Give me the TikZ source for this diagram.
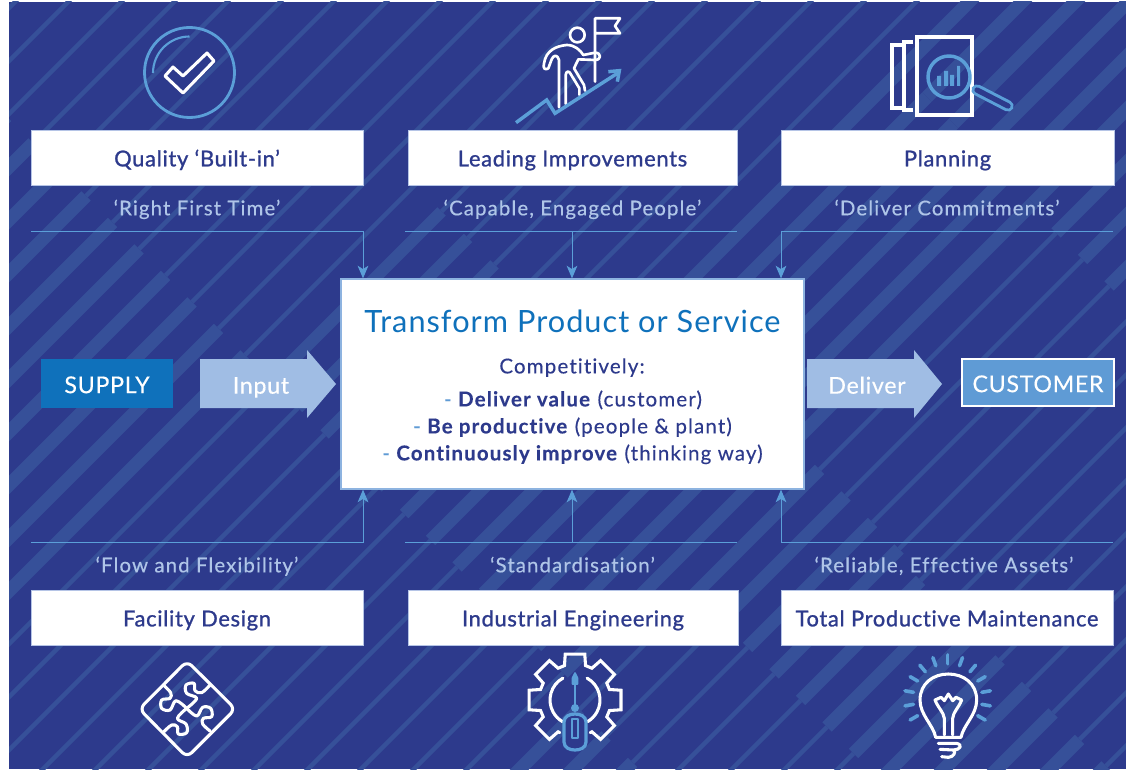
\documentclass[tikz,border=0pt]{standalone}
\usepackage{fontspec}
\setmainfont{Lato}
\newfontfamily\semi[FakeBold=1.1,LetterSpace=3.2,Ligatures=NoCommon]{Lato}
\newfontfamily\subf[FakeBold=0.4,LetterSpace=5.5,Ligatures=NoCommon]{Lato}
\newfontfamily\listf[LetterSpace=5.5,FakeBold=0.2,Ligatures=NoCommon]{Lato}
\newfontfamily\headf[LetterSpace=3.4,Ligatures=NoCommon]{Lato}
\newfontfamily\flowf[LetterSpace=3,FakeBold=0.3,Ligatures=NoCommon]{Lato}
\usetikzlibrary{arrows.meta}
\definecolor{navy}{HTML}{2D3A8C}
\definecolor{stripe}{HTML}{365099}
\definecolor{skyb}{HTML}{5B9FD8}
\definecolor{paleb}{HTML}{A0BDE4}
\definecolor{subt}{HTML}{AFC5E8}
\definecolor{deepb}{HTML}{0F71BB}
\definecolor{midb}{HTML}{5F9BD5}
\definecolor{boxedge}{HTML}{B5C4E6}
\definecolor{coreedge}{HTML}{8DB3E0}
\newcommand{\seg}[4]{\draw[stripe,line width=#4pt] ({(#1+#2)/2},{(#1-#2)/2}) -- ({(#1+#3)/2},{(#1-#3)/2});}
\tikzset{
 x=0.75pt,y=-0.75pt,
 titlebox/.style={draw=boxedge,line width=0.5pt,fill=white,text=navy,inner sep=0pt,text height=13.3pt,text depth=0pt,font=\semi\fontsize{16.4}{18}\selectfont},
 subtitle/.style={text=subt,inner sep=0pt,text height=11pt,text depth=0pt,font=\subf\fontsize{15.3}{17}\selectfont},
 conn/.style={skyb,line width=0.75pt},
 connarrow/.style={conn,-{Stealth[length=9.5pt,width=8pt,inset=2.5pt]}},
 corebox/.style={draw=coreedge,line width=0.9pt,fill=white,inner sep=0pt},
 flowtxt/.style={text=white,inner sep=0pt,text height=14.5pt,text depth=0pt,font=\flowf\fontsize{17.4}{20}\selectfont},
 iconw/.style={white,line width=2.3pt,line cap=round,line join=round},
 iconb/.style={skyb,line width=2.3pt,line cap=round,line join=round},
 corelist/.style={text=navy,inner sep=0pt,text height=11.1pt,text depth=0pt,font=\listf\fontsize{15.4}{17}\selectfont},
}
\begin{document}
\begin{tikzpicture}
\useasboundingbox (0,0) rectangle (1126,770);
\fill[white] (0,0) rectangle (1126,770);
\fill[navy] (9,2) rectangle (1126,769);
\begin{scope}
\clip (9,2) rectangle (1126,769);
\foreach \k in {-1,...,35}{
  \pgfmathtruncatemacro{\c}{70+53*\k}
  \ifnum\c<620
    \seg{\c}{-900}{-110}{10}\seg{\c}{-110}{1300}{3.4}
  \else\ifnum\c<960
    \seg{\c}{-900}{-110}{3.4}\seg{\c}{-110}{230}{9}\seg{\c}{230}{1300}{3.4}
  \else\ifnum\c<1240
    \seg{\c}{-900}{-110}{3.4}\seg{\c}{-110}{830}{10}\seg{\c}{830}{1300}{10}
  \else\ifnum\c<1500
    \seg{\c}{-900}{-130}{10}\seg{\c}{-130}{100}{3.4}\seg{\c}{100}{350}{10}\seg{\c}{350}{823}{3.4}\seg{\c}{823}{1300}{10}
  \else
    \seg{\c}{-900}{100}{3.4}\seg{\c}{100}{340}{10}\seg{\c}{340}{823}{3.4}\seg{\c}{823}{1300}{10}
  \fi\fi\fi\fi
}
\end{scope}

% title boxes
\node[titlebox,minimum width=249pt,minimum height=41.25pt] (quality) at (197,157.5) {Quality ‘Built-in’};
\node[titlebox,minimum width=247pt,minimum height=41.25pt] (leading) at (572.5,157.5) {Leading Improvements};
\node[titlebox,minimum width=250pt,minimum height=41.25pt] (planning) at (947.5,157.5) {Planning};
\node[titlebox,minimum width=249pt,minimum height=41.25pt] (facility) at (197,617.5) {Facility Design};
\node[titlebox,minimum width=247.5pt,minimum height=41.25pt] (industrial) at (573,617.5) {Industrial Engineering};
\node[titlebox,minimum width=249pt,minimum height=41.25pt] (tpm) at (947,617.5) {Total Productive Maintenance};

% subtitles
\node[subtitle] (s1) at (197,208) {‘Right First Time’};
\node[subtitle] (s2) at (572.5,208) {‘Capable, Engaged People’};
\node[subtitle] (s3) at (947,208) {‘Deliver Commitments’};
\node[subtitle] (s4) at (197,565) {‘Flow and Flexibility’};
\node[subtitle] (s5) at (572.5,565) {‘Standardisation’};
\node[subtitle] (s6) at (944,565) {‘Reliable, Effective Assets’};

% core
\node[corebox,minimum width=347.25pt,minimum height=157.5pt] (core) at (572.5,384) {};
\node[inner sep=0pt,text=deepb,text height=16.6pt,text depth=0pt,font=\headf\fontsize{23}{27}\selectfont] (coretitle) at (572.5,321) {Transform Product or Service};
\node[corelist] (comp) at (572,366) {Competitively:};
\node[corelist] (l1) at (573,399) {{\color{midb}-} \textbf{Deliver value} (customer)};
\node[corelist] (l2) at (572.5,426) {{\color{midb}-} \textbf{Be productive} (people \& plant)};
\node[corelist] (l3) at (572.5,453) {{\color{midb}-} \textbf{Continuously improve} (thinking way)};

% connectors
\coordinate (c1l) at (31,231); \coordinate (c1r) at (363,231);
\coordinate (c2l) at (405,231); \coordinate (c2r) at (737,231); \coordinate (c2m) at (572,231);
\coordinate (c3l) at (781,231); \coordinate (c3r) at (1113,231);
\coordinate (c4l) at (31,542); \coordinate (c4r) at (363,542);
\coordinate (c5l) at (405,542); \coordinate (c5r) at (737,542); \coordinate (c5m) at (572,542);
\coordinate (c6l) at (781,542); \coordinate (c6r) at (1113,542);
\draw[connarrow] (c1l) -- (c1r) -- (c1r |- core.north);
\draw[conn] (c2l) -- (c2r);
\draw[connarrow] (c2m) -- (c2m |- core.north);
\draw[connarrow] (c3r) -- (c3l) -- (c3l |- core.north);
\draw[connarrow] (c4l) -- (c4r) -- (c4r |- core.south);
\draw[conn] (c5l) -- (c5r);
\draw[connarrow] (c5m) -- (c5m |- core.south);
\draw[connarrow] (c6r) -- (c6l) -- (c6l |- core.south);

% flow
\node[flowtxt,fill=deepb,minimum width=99pt,minimum height=36.75pt] (supply) at (107,383.5) {SUPPLY};
\fill[paleb] (200,359) -- (307,359) -- (307,350) -- (336,384) -- (307,418) -- (307,408) -- (200,408) -- cycle;
\node[flowtxt] (input) at (261,384) {Input};
\fill[paleb] (807,359) -- (914,359) -- (914,350) -- (942,384) -- (914,418) -- (914,408) -- (807,408) -- cycle;
\node[flowtxt] (deliver) at (867,384) {Deliver};
\node[flowtxt,draw=white,line width=1.5pt,fill=midb,minimum width=114pt,minimum height=35.5pt] (customer) at (1038,382.5) {CUSTOMER};

% icon: check
\draw[iconb,line width=2.1pt] (189.5,72.5) circle[radius=45];
\draw[iconb,line width=1.6pt,line cap=butt] (153,73) arc[start angle=180,end angle=270,radius=36.5];
\draw[iconw] (165,76) -- (173,67) -- (183,76) -- (207,53) -- (214,61) -- (183,93) -- cycle;

% icon: climber
\begin{scope}[shift={(500,0)},x=0.25pt,y=-0.25pt]
\draw[iconw,line width=2pt] (232,105) circle[radius=22];
\draw[iconw,line width=2pt] (285,245) -- (285,55) -- (360,55) -- (345,78) -- (360,100) -- (287,100);
\draw[iconw,line width=2pt] (177,322) -- (177,180) .. controls (172,162) and (160,165) .. (155,178) -- (145,205) .. controls (135,212) and (128,205) .. (132,190) .. controls (138,150) and (170,138) .. (200,135) .. controls (225,135) and (240,150) .. (250,165) -- (285,158) .. controls (305,158) and (305,180) .. (285,180) -- (235,178) -- (222,205) -- (252,255) -- (255,272);
\draw[iconw,line width=2pt] (197,312) -- (197,225) .. controls (198,212) and (208,212) .. (212,222) -- (238,265) -- (238,285);
\draw[iconb,line width=2.6pt,line cap=butt,line join=miter] (48,368) -- (140,300) -- (165,340) -- (352,220);
\draw[iconb,line width=2.6pt,line cap=butt,line join=miter] (325,215) -- (358,212) -- (352,245);
\end{scope}

% icon: plan
\draw[iconw,line cap=butt,line join=miter,line width=2.4pt] (917,37) rectangle (972,115);
\draw[iconw,line cap=butt,line join=miter,line width=2.4pt] (913,42) -- (904,42) -- (904,110) -- (913,110);
\draw[iconw,line cap=butt,line join=miter,line width=2.4pt] (902,45) -- (892,45) -- (892,108) -- (902,108);
\draw[iconb,line width=2.6pt] (949,77) circle[radius=21];
\fill[skyb] (937,76) rectangle (941,86) (944,71) rectangle (948,86) (950,75) rectangle (954,86) (957,66) rectangle (960,86);
\draw[skyb,line width=8.5pt,line cap=round] (977,90) -- (1008,106);
\draw[navy,line width=4pt,line cap=round] (977,90) -- (1008,106);

% icon: puzzle
\begin{scope}[shift={(120,650)},x=0.25pt,y=-0.25pt]
\draw[iconw,rounded corners=5pt] (201,33) -- (346,177) -- (201,322) -- (58,177) -- cycle;
\draw[iconw] plot[smooth,tension=0.6] coordinates {(130,105) (152,128) (150,145) (125,150) (125,175) (150,180) (168,152) (200,175)};
\draw[iconw] plot[smooth,tension=0.6] coordinates {(270,105) (245,128) (225,122) (222,100) (198,105) (200,130) (230,145) (200,175)};
\draw[iconw] plot[smooth,tension=0.6] coordinates {(270,243) (248,222) (250,205) (275,200) (272,175) (248,172) (230,198) (200,175)};
\draw[iconw] plot[smooth,tension=0.6] coordinates {(132,245) (155,225) (172,230) (175,252) (200,248) (198,222) (172,205) (200,175)};
\end{scope}

% icon: gear
\draw[iconw,line join=miter,shift={(575,700)}] (115:36)
  \foreach \a in {135,180,225,270,315,360,405}{
    -- ({\a-17}:36) -- ({\a-12}:47) -- ({\a+12}:47) -- ({\a+17}:36) }
  -- (425:36);
\draw[iconw,shift={(575,700)}] (-61:25) arc[start angle=-61,end angle=60,radius=25];
\draw[iconw,shift={(575,700)}] (241:25) arc[start angle=241,end angle=120,radius=25];
\draw[iconb,line width=1.9pt] (575,685) -- (575,708);
\draw[iconb,fill=skyb,line width=1.2pt] (575,673) -- (577.5,678) -- (577.5,684) -- (572.5,684) -- (572.5,678) -- cycle;
\fill[skyb] (575,708) circle[radius=4];
\draw[iconb,line width=2.4pt,fill=navy] (564,722) .. controls (564,716) and (570,714) .. (575,714) .. controls (580,714) and (586,716) .. (586,722) -- (586,742) .. controls (586,748) and (580,750) .. (575,750) .. controls (570,750) and (564,748) .. (564,742) -- cycle;
\draw[iconb,line width=1.6pt] (572,719) rectangle (578,738);

% icon: bulb
\begin{scope}[shift={(885,650)},x=0.25pt,y=-0.25pt]
\draw[iconw] (152,262) .. controls (145,225) and (105,195) .. (105,150) .. controls (105,100) and (145,72) .. (190,72) .. controls (235,72) and (275,100) .. (275,150) .. controls (275,195) and (235,225) .. (228,262) -- cycle;
\draw[iconw] (178,255) -- (178,205) .. controls (175,185) and (160,175) .. (150,150) -- (168,142) -- (178,152) -- (190,132) -- (203,152) -- (213,142) -- (230,150) .. controls (220,175) and (205,185) .. (203,205) -- (203,255);
\draw[iconw] (160,280) -- (215,280) .. controls (235,285) and (225,300) .. (205,300) -- (165,298) (205,300) .. controls (215,305) and (205,322) .. (190,322) -- (170,320);
\foreach \r in {-210,-190,-170,-150,-130,-110,-90,-70,-50,-30,-10,10,30}{
  \draw[iconb,line width=2.7pt] ([shift={(188,145)}]\r:104) -- ([shift={(188,145)}]\r:130);
}
\end{scope}
\end{tikzpicture}
\end{document}
